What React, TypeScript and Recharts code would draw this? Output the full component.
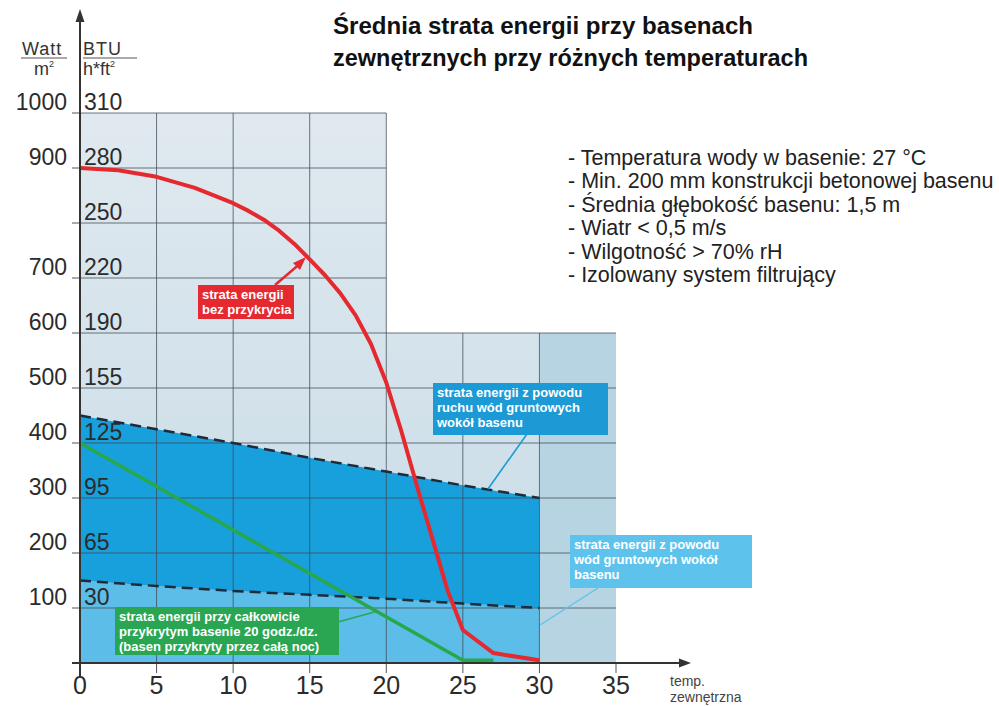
import React from 'react';
import {
  ComposedChart,
  Line,
  Area,
  XAxis,
  YAxis,
  ReferenceArea,
  ReferenceLine,
} from 'recharts';

const FONT = '"Liberation Sans", Arial, sans-serif';

// axes
const xTicks = [0, 5, 10, 15, 20, 25, 30, 35];
const yTicks = [0, 100, 200, 300, 400, 500, 600, 700, 800, 900, 1000];
const wattLabels = ['', '100', '200', '300', '400', '500', '600', '700', '', '900', '1000'];
const btuLabels = ['', '30', '65', '95', '125', '155', '190', '220', '250', '280', '310'];

// groundwater band (W/m2)
const bandTemp = [0, 5, 10, 15, 20, 25, 30];
const groundwaterFlow = [450, 425, 400, 373, 348, 323, 300];
const groundwaterStill = [150, 140, 131, 124, 117, 108, 100];

// uncovered pool
const uncoveredTemp = [0, 2.5, 5, 7.5, 10, 11, 12, 13, 14, 15, 16, 17, 18, 19, 20, 21, 22, 23, 24, 25, 27, 30];
const uncoveredLoss = [900, 896, 884, 864, 836, 822, 806, 786, 762, 734, 705, 672, 632, 580, 510, 420, 322, 227, 132, 60, 18, 5];

// covered 20 h/day
const coveredTemp = [0, 25, 27];
const coveredLoss = [400, 5, 5];

const notes = [
  '- Temperatura wody w basenie: 27 °C',
  '- Min. 200 mm konstrukcji betonowej basenu',
  '- Średnia głębokość basenu: 1,5 m',
  '- Wiatr < 0,5 m/s',
  '- Wilgotność > 70% rH',
  '- Izolowany system filtrujący',
];

const bandData = bandTemp.map((t, i) => ({
  t,
  upper: groundwaterFlow[i],
  lower: groundwaterStill[i],
  range: [groundwaterStill[i], groundwaterFlow[i]],
}));
const redData = uncoveredTemp.map((t, i) => ({ t, v: uncoveredLoss[i] }));
const greenData = coveredTemp.map((t, i) => ({ t, v: coveredLoss[i] }));

const GRID = '#3d4853';

function YTick(props: any) {
  const { x, y, payload } = props;
  const i = yTicks.indexOf(payload.value);
  return (
    <g fontFamily={FONT} fontSize={23} fill="#2b2b2b">
      <text x={x - 3} y={y - 3} textAnchor="end">{wattLabels[i]}</text>
      <text x={x + 14} y={y - 3} textAnchor="start">{btuLabels[i]}</text>
    </g>
  );
}

function Note({ x, y, w, h, fill, lines }: { x: number; y: number; w: number; h: number; fill: string; lines: string[] }) {
  return (
    <g>
      <rect x={x} y={y} width={w} height={h} fill={fill} />
      {lines.map((l, i) => (
        <text
          key={i}
          x={x + 4}
          y={y + 14 + i * 15}
          fill="#fff"
          fontFamily={FONT}
          fontWeight="bold"
          fontSize={13}
        >
          {l}
        </text>
      ))}
    </g>
  );
}

export default function App() {
  return (
    <div style={{ position: 'absolute', left: 0, top: 0, width: 999, height: 706, background: '#fff' }}>
      <svg width={0} height={0} style={{ position: 'absolute' }}>
        <defs>
          <linearGradient id="bgGrad" gradientUnits="userSpaceOnUse" x1="0" y1="113" x2="0" y2="663">
            <stop offset="0%" stopColor="#e0e9ef" />
            <stop offset="100%" stopColor="#c6dbe7" />
          </linearGradient>
        </defs>
      </svg>
      <ComposedChart width={999} height={706} margin={{ top: 113, right: 383, bottom: 0, left: 0 }}>
        <XAxis
          type="number"
          dataKey="t"
          domain={[0, 35]}
          ticks={xTicks}
          height={43}
          axisLine={false}
          tickSize={10}
          tickMargin={3}
          tickLine={{ stroke: '#555', strokeWidth: 1 }}
          tick={{ fontSize: 25, fill: '#2b2b2b', fontFamily: FONT }}
          allowDataOverflow
        />
        <YAxis
          type="number"
          domain={[0, 1000]}
          ticks={yTicks}
          width={80}
          axisLine={false}
          tickSize={8}
          tickMargin={2}
          tickLine={{ stroke: '#555', strokeWidth: 1 }}
          tick={<YTick />}
          allowDataOverflow
        />
        <ReferenceArea x1={0} x2={20} y1={0} y2={1000} fill="url(#bgGrad)" fillOpacity={1} stroke="none" />
        <ReferenceArea x1={20} x2={30} y1={0} y2={600} fill="url(#bgGrad)" fillOpacity={1} stroke="none" />
        <ReferenceArea x1={30} x2={35} y1={0} y2={600} fill="#b7d4e3" fillOpacity={1} stroke="none" />
        {xTicks.slice(1, 7).map((x) => (
          <ReferenceLine
            key={'gx' + x}
            segment={[{ x, y: 0 }, { x, y: x <= 20 ? 1000 : 600 }]}
            stroke={GRID}
            strokeOpacity={0.75}
          />
        ))}
        {yTicks.slice(1).map((y) => (
          <ReferenceLine
            key={'gy' + y}
            segment={[{ x: 0, y }, { x: y <= 600 ? 35 : 20, y }]}
            stroke={GRID}
            strokeOpacity={0.75}
          />
        ))}
        <Area
          data={bandData}
          dataKey="lower"
          type="linear"
          stroke="none"
          fill="#5cbde9"
          fillOpacity={1}
          isAnimationActive={false}
        />
        <Area
          data={bandData}
          dataKey="range"
          type="linear"
          stroke="none"
          fill="#18a0dc"
          fillOpacity={1}
          isAnimationActive={false}
        />
        <Line
          data={bandData}
          dataKey="upper"
          type="linear"
          stroke="#1d2b3a"
          strokeWidth={2.5}
          strokeDasharray="11 6"
          dot={false}
          isAnimationActive={false}
        />
        <Line
          data={bandData}
          dataKey="lower"
          type="linear"
          stroke="#1d2b3a"
          strokeWidth={2.5}
          strokeDasharray="11 6"
          dot={false}
          isAnimationActive={false}
        />
        <Line
          data={greenData}
          dataKey="v"
          type="linear"
          stroke="#27a84a"
          strokeWidth={3.5}
          dot={false}
          isAnimationActive={false}
        />
        <Line
          data={redData}
          dataKey="v"
          type="linear"
          stroke="#e42a2f"
          strokeWidth={4}
          strokeLinejoin="round"
          dot={false}
          isAnimationActive={false}
        />
      </ComposedChart>

      <svg
        width={999}
        height={706}
        style={{ position: 'absolute', left: 0, top: 0, pointerEvents: 'none' }}
        fontFamily={FONT}
      >
        {/* title */}
        <text x={333} y={34} fontSize={24} fontWeight="bold" fill="#111" textLength={420} lengthAdjust="spacingAndGlyphs">
          Średnia strata energii przy basenach
        </text>
        <text x={333} y={66} fontSize={24} fontWeight="bold" fill="#111" textLength={475} lengthAdjust="spacingAndGlyphs">
          zewnętrznych przy różnych temperaturach
        </text>

        {/* conditions */}
        {notes.map((n, i) => (
          <text key={i} x={568} y={165 + i * 23.4} fontSize={21.5} fill="#222">
            {n}
          </text>
        ))}

        {/* unit headers */}
        <text x={22} y={55} fontSize={18} fill="#333" letterSpacing={1}>Watt</text>
        <line x1={21} y1={58} x2={67} y2={58} stroke="#555" strokeWidth={1.2} />
        <text x={34} y={75} fontSize={18} fill="#333">
          m<tspan fontSize={9} dy={-8}>2</tspan>
        </text>
        <text x={83} y={55} fontSize={18} fill="#333" letterSpacing={1}>BTU</text>
        <line x1={83} y1={58} x2={137} y2={58} stroke="#555" strokeWidth={1.2} />
        <text x={83} y={75} fontSize={18} fill="#333">
          h*ft<tspan fontSize={9} dy={-8}>2</tspan>
        </text>

        {/* axes */}
        <line x1={80} y1={677} x2={80} y2={20} stroke="#333" strokeWidth={2} />
        <polygon points="80,9 75.5,22 84.5,22" fill="#333" />
        <line x1={72} y1={663} x2={681} y2={663} stroke="#333" strokeWidth={2} />
        <polygon points="691,663 679,658.5 679,667.5" fill="#333" />
        <text x={670} y={686} fontSize={14} fill="#444">temp.</text>
        <text x={670} y={702} fontSize={14} fill="#444">zewnętrzna</text>

        {/* callouts */}
        <line x1={275} y1={285} x2={302} y2={262} stroke="#e42a2f" strokeWidth={2.5} />
        <polygon points="306,257 293,263 300,270" fill="#e42a2f" />
        <Note x={198} y={285} w={96} h={34} fill="#e42a30" lines={['strata energii', 'bez przykrycia']} />

        <line x1={527} y1={434} x2={488} y2={489} stroke="#1c9ad6" strokeWidth={1.6} />
        <Note
          x={433}
          y={383}
          w={175}
          h={52}
          fill="#1c9ad6"
          lines={['strata energii z powodu', 'ruchu wód gruntowych', 'wokół basenu']}
        />

        <line x1={598} y1={588} x2={540} y2={625} stroke="#5ec3ec" strokeWidth={1.4} />
        <Note
          x={570}
          y={535}
          w={182}
          h={53}
          fill="#5ec3ec"
          lines={['strata energii z powodu', 'wód gruntowych wokół', 'basenu']}
        />

        <line x1={338} y1={622} x2={378} y2={611} stroke="#2aa653" strokeWidth={1.6} />
        <Note
          x={115}
          y={607}
          w={224}
          h={48}
          fill="#2aa653"
          lines={['strata energii przy całkowicie', 'przykrytym basenie 20 godz./dz.', ' (basen przykryty przez całą noc)']}
        />
      </svg>
    </div>
  );
}
